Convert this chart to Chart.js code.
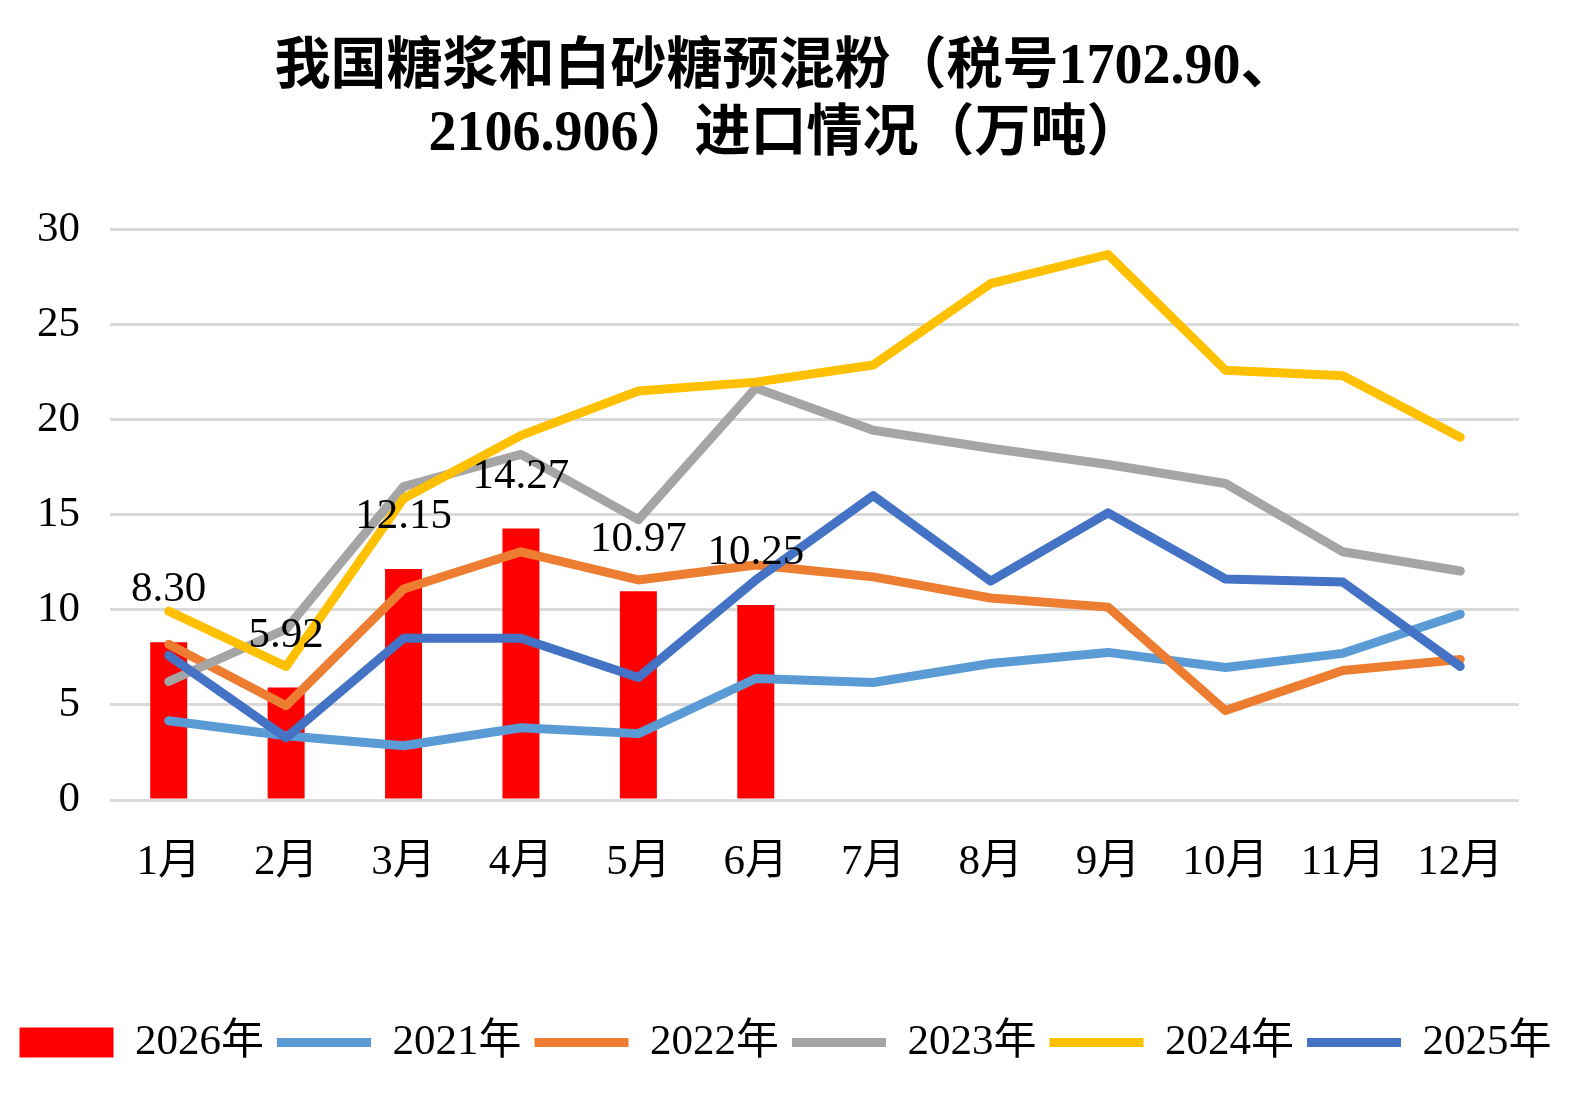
<!DOCTYPE html>
<html>
<head>
<meta charset="utf-8">
<script src="https://cdn.jsdelivr.net/npm/chart.js@4"></script>
<style>
  html, body { margin: 0; padding: 0; background: #fff; }
  #wrap { width: 1571px; height: 1102px; }
</style>
</head>
<body>
<div id="wrap"><canvas id="ImportGraph"></canvas></div>
<script>
var months = ["1月", "2月", "3月", "4月", "5月", "6月", "7月", "8月", "9月", "10月", "11月", "12月"];
var yTicks = [0, 5, 10, 15, 20, 25, 30];

var y2026 = [8.30, 5.92, 12.15, 14.27, 10.97, 10.25];
var y2021 = [4.17, 3.38, 2.85, 3.80, 3.49, 6.39, 6.18, 7.18, 7.76, 6.97, 7.71, 9.77];
var y2022 = [8.19, 4.96, 11.09, 13.05, 11.57, 12.36, 11.73, 10.62, 10.14, 4.70, 6.81, 7.39];
var y2023 = [6.23, 8.98, 16.48, 18.17, 14.74, 21.66, 19.44, 18.49, 17.64, 16.64, 13.05, 12.04];
var y2024 = [9.93, 7.02, 15.85, 19.17, 21.50, 21.97, 22.87, 27.15, 28.68, 22.60, 22.30, 19.07];
var y2025 = [7.60, 3.27, 8.50, 8.50, 6.44, 11.57, 16.00, 11.51, 15.10, 11.62, 11.46, 7.02];

Chart.defaults.font.family = "'Liberation Serif', 'Noto Sans CJK SC', serif";
Chart.defaults.color = "#000";

function lineSet(label, data, color, order) {
    return {
        type: 'line',
        label: label,
        data: data,
        borderColor: color,
        backgroundColor: color,
        borderWidth: 9,
        borderCapStyle: 'round',
        borderJoinStyle: 'round',
        pointRadius: 0,
        pointHoverRadius: 0,
        pointStyle: 'line',
        tension: 0,
        order: order
    };
}

// value labels over the red bars
var barLabels = {
    id: 'barLabels',
    afterDatasetsDraw: function (chart) {
        var ctx = chart.ctx;
        var meta = chart.getDatasetMeta(0);
        ctx.save();
        ctx.font = "43px 'Liberation Serif', 'Noto Sans CJK SC', serif";
        ctx.fillStyle = "#000";
        ctx.textAlign = "center";
        ctx.textBaseline = "middle";
        for (let i = 0; i < meta.data.length; i++) {
            var bar = meta.data[i];
            ctx.fillText(y2026[i].toFixed(2), bar.x, bar.y - 52);
        }
        ctx.restore();
    }
};

var chartdata = {
    labels: months,
    datasets: [
        {
            type: 'bar',
            label: '2026年',
            data: y2026,
            backgroundColor: '#FF0000',
            borderWidth: 0,
            pointStyle: 'rect',
            barPercentage: 0.9,
            categoryPercentage: 0.35,
            order: 10
        },
        lineSet('2021年', y2021, '#5B9BD5', 5),
        lineSet('2022年', y2022, '#ED7D31', 4),
        lineSet('2023年', y2023, '#A5A5A5', 3),
        lineSet('2024年', y2024, '#FFC000', 2),
        lineSet('2025年', y2025, '#4472C4', 1)
    ]
};

var graphTarget = document.getElementById("ImportGraph");
var importGraph = new Chart(graphTarget, {
    type: 'bar',
    data: chartdata,
    plugins: [barLabels],
    options: {
        responsive: true,
        maintainAspectRatio: false,
        animation: false,
        layout: { padding: { top: 0, left: 0, right: 0, bottom: 28 } },
        plugins: {
            title: {
                display: true,
                text: ["我国糖浆和白砂糖预混粉（税号1702.90、", "2106.906）进口情况（万吨）"],
                font: { size: 56, weight: 'bold' },
                lineHeight: 1.2,
                color: "#000",
                padding: { top: 35, bottom: 60 }
            },
            legend: {
                position: 'bottom',
                labels: {
                    usePointStyle: true,
                    pointStyleWidth: 94,
                    boxHeight: 30,
                    padding: 13,
                    font: { size: 43 },
                    color: "#000",
                    sort: function (a, b) { return a.datasetIndex - b.datasetIndex; }
                }
            },
            tooltip: { enabled: false }
        },
        scales: {
            x: {
                grid: { display: false },
                border: { display: false },
                ticks: { font: { size: 43 }, padding: 29, color: "#000" },
                afterFit: function (scale) { scale.height = 208; }
            },
            y: {
                min: 0,
                max: 30,
                afterBuildTicks: function (scale) {
                    scale.ticks = yTicks.map(function (v) { return { value: v }; });
                },
                grid: { color: '#D9D9D9', lineWidth: 3, drawTicks: false },
                border: { display: false },
                ticks: { font: { size: 43 }, padding: 30, color: "#000" },
                afterFit: function (scale) { scale.width = 110; }
            },
            yRight: {
                position: 'right',
                grid: { display: false },
                border: { display: false },
                ticks: { display: false },
                afterFit: function (scale) { scale.width = 52; }
            }
        }
    }
});
</script>
</body>
</html>
